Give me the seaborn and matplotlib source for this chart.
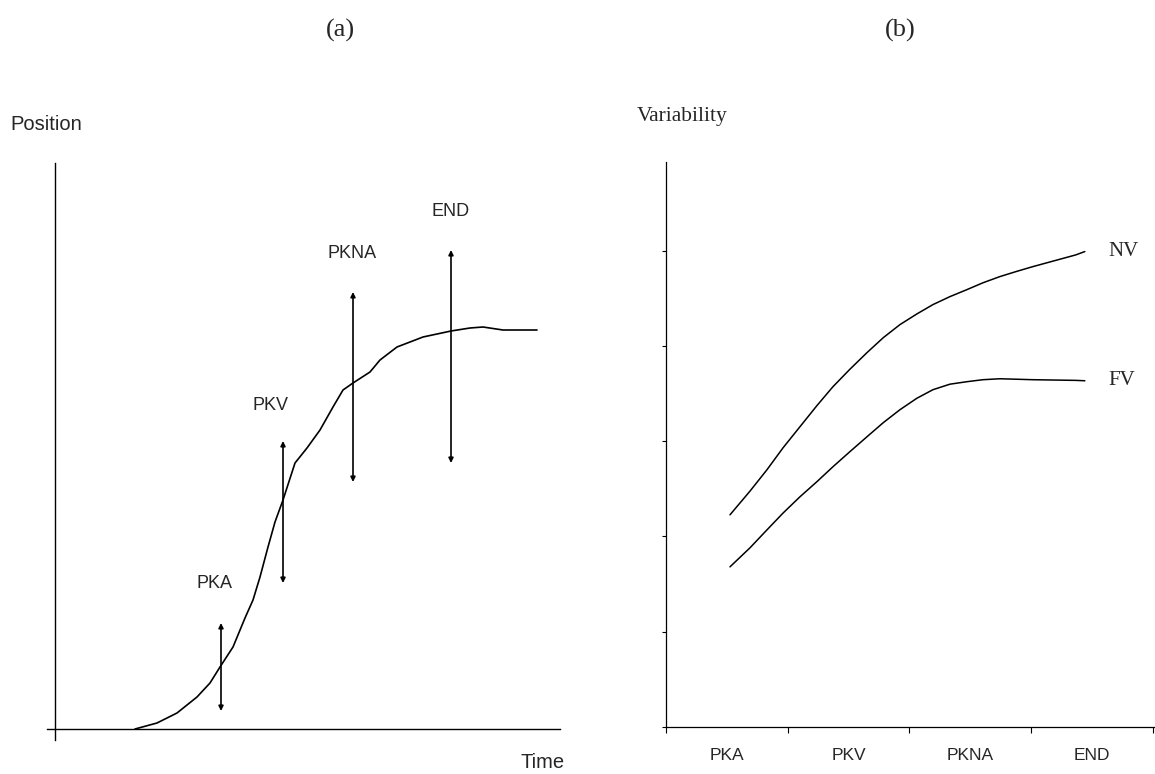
import matplotlib
matplotlib.use("Agg")
import matplotlib.pyplot as plt
import seaborn as sns
import pandas as pd
import numpy as np

# ---- data: panel (a) position vs time ----
time_vals = [80, 102, 122, 142, 155, 165, 178, 190, 198, 205, 213, 220, 228, 240, 252,
             265, 278, 288, 298, 315, 325, 342, 368, 396, 415, 428, 448, 482]
position_vals = [0, 6, 16, 32, 46, 62, 82, 111, 129, 152, 182, 207, 229, 266, 281,
                 299, 322, 339, 346, 357, 369, 382, 392, 398, 401, 402, 399, 399]
event_names = ["PKA", "PKV", "PKNA", "END"]
event_time = [166, 228, 298, 396]
event_low = [18, 146, 247, 266]
event_high = [106, 288, 437, 479]
event_label_x = [160, 215, 297, 396]
event_label_y = [146, 324, 476, 517]

# ---- data: panel (b) variability ----
phase_x = [0.526, 0.690, 0.830, 0.962, 1.101, 1.240, 1.372, 1.512, 1.652, 1.786, 1.923,
           2.062, 2.194, 2.334, 2.473, 2.605, 2.744, 2.883, 3.016, 3.369, 3.443]
nv_vals = [2.227, 2.475, 2.700, 2.930, 3.151, 3.372, 3.571, 3.755, 3.929, 4.086, 4.223,
           4.335, 4.433, 4.517, 4.590, 4.662, 4.727, 4.782, 4.832, 4.955, 4.990]
fv_vals = [1.681, 1.880, 2.069, 2.245, 2.416, 2.574, 2.731, 2.890, 3.046, 3.194, 3.330,
           3.450, 3.540, 3.598, 3.624, 3.645, 3.655, 3.650, 3.645, 3.638, 3.634]
phase_labels = ["PKA", "PKV", "PKNA", "END"]

sns.set_style("white")
plt.rcParams['font.family'] = ['Liberation Sans', 'DejaVu Sans']

fig = plt.figure(figsize=(11.55, 7.74), dpi=100)

# ---------- panel (a) ----------
axa = fig.add_axes([47/1155, 1-740/774, 513/1155, 577/774])
dfa = pd.DataFrame({"time": time_vals, "position": position_vals})
sns.lineplot(data=dfa, x="time", y="position", ax=axa, color="black", lw=1.2, sort=False)
axa.set_xlim(-8, 505)
axa.set_ylim(-11, 566)
for s in ["top", "right"]:
    axa.spines[s].set_visible(False)
axa.spines["left"].set_position(("data", 0))
axa.spines["bottom"].set_position(("data", 0))
for s in ["left", "bottom"]:
    axa.spines[s].set_color("black")
    axa.spines[s].set_linewidth(1.0)
axa.set_xticks([])
axa.set_yticks([])
axa.set_xlabel("")
axa.set_ylabel("")
for name, xe, lo, hi, lx, ly in zip(event_names, event_time, event_low, event_high,
                                     event_label_x, event_label_y):
    axa.annotate("", xy=(xe, hi), xytext=(xe, lo),
                 arrowprops=dict(arrowstyle="<|-|>", lw=1.2, color="black",
                                 mutation_scale=7, shrinkA=0, shrinkB=0))
    axa.text(lx, ly, name, ha="center", va="center", fontsize=13)

# ---------- panel (b) ----------
axb = fig.add_axes([666/1155, 1-727/774, 489/1155, 565/774])
dfb = pd.DataFrame({"phase": phase_x * 2, "variability": nv_vals + fv_vals,
                    "series": ["NV"] * len(nv_vals) + ["FV"] * len(fv_vals)})
sns.lineplot(data=dfb, x="phase", y="variability", units="series", estimator=None,
             ax=axb, color="black", lw=1.1, sort=False)
axb.set_xlim(0, 4.02)
axb.set_ylim(0, 5.93)
for s in ["top", "right"]:
    axb.spines[s].set_visible(False)
for s in ["left", "bottom"]:
    axb.spines[s].set_color("black")
    axb.spines[s].set_linewidth(0.9)
axb.set_xticks([0, 1, 2, 3, 4])
axb.set_xticklabels([])
axb.set_xticks([0.5, 1.5, 2.5, 3.5], minor=True)
axb.set_xticklabels(phase_labels, minor=True, fontdict=dict(size=12.5))
axb.tick_params(axis="x", which="major", direction="out", length=4, width=0.8,
                bottom=True, color="black")
axb.tick_params(axis="x", which="minor", length=0, pad=15)
axb.set_yticks([0, 1, 2, 3, 4, 5])
axb.set_yticklabels([])
axb.tick_params(axis="y", which="major", direction="out", length=3, width=0.8,
                left=True, color="black")
axb.set_xlabel("")
axb.set_ylabel("")
axb.text(3.64, nv_vals[-1], "NV", ha="left", va="center", fontsize=15,
         family="Liberation Serif")
axb.text(3.64, fv_vals[-1], "FV", ha="left", va="center", fontsize=15,
         family="Liberation Serif")

# ---------- figure texts ----------
fig.text(340/1155, 1-30/774, "(a)", ha="center", va="center", fontsize=19,
         family="Liberation Serif")
fig.text(900/1155, 1-30/774, "(b)", ha="center", va="center", fontsize=19,
         family="Liberation Serif")
fig.text(10/1155, 1-125/774, "Position", ha="left", va="center", fontsize=14.5)
fig.text(637/1155, 1-117/774, "Variability", ha="left", va="center", fontsize=15.5,
         family="Liberation Serif")
fig.text(543/1155, 1-763/774, "Time", ha="center", va="center", fontsize=14.5)

fig.savefig("out.png", dpi=100)
